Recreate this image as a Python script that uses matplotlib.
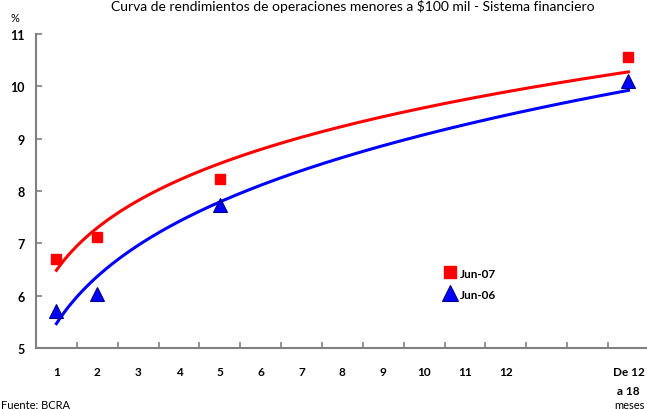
import numpy as np
import matplotlib
matplotlib.use("Agg")
import matplotlib.pyplot as plt

# Plazos (índice de categoría) y rendimientos observados
categorias = ["1", "2", "3", "4", "5", "6", "7", "8", "9", "10", "11", "12", "", "", "De 12\na 18"]
plazos = [1, 2, 5, 15]
jun07 = [6.70, 7.12, 8.23, 10.56]
jun06 = [5.71, 6.03, 7.73, 10.11]

plt.rcParams["font.family"] = ["Lato", "DejaVu Sans"]

fig = plt.figure(figsize=(6.47, 4.10), dpi=100)
ax = fig.add_axes([0.0556, 0.1488, 0.9473, 0.7658])

x = np.array(plazos, dtype=float)
xs = np.linspace(1, 15, 300)


def ajuste_potencial(xv, yv):
    b, lna = np.polyfit(np.log(xv), np.log(yv), 1)
    return np.exp(lna) * xs ** b


rojo = "#ff0000"
azul = "#0000ff"

ax.plot(xs, ajuste_potencial(x, jun07), color=rojo, lw=2.2, zorder=2)
ax.plot(xs, ajuste_potencial(x, jun06), color=azul, lw=2.2, zorder=2)
ax.plot(x, jun07, ls="none", marker="s", ms=7, color=rojo, mec=rojo, zorder=3, label="Jun-07")
ax.plot(x, jun06, ls="none", marker="^", ms=10, color=azul, mec="#000080", mew=0.8, zorder=3, label="Jun-06")

ax.set_xlim(0.5, 15.5)
ax.set_ylim(5, 11)
ax.set_yticks(range(5, 12))
ax.set_yticklabels([str(v) for v in range(5, 12)], fontweight="bold", fontsize=9)
ax.set_xticks(np.arange(0.5, 15.6, 1.0))
ax.set_xticklabels([])
ax.set_xticks(np.arange(1, 16), minor=True)
ax.set_xticklabels(categorias, minor=True, fontweight="bold", fontsize=8.5, va="top", linespacing=1.9)
ax.tick_params(axis="x", which="minor", length=0, pad=13)
ax.tick_params(axis="x", which="major", direction="in", length=4, color="#808080", width=1.2)
ax.tick_params(axis="y", direction="in", length=4, color="#808080", width=1.2, pad=8)

for s in ["top", "right"]:
    ax.spines[s].set_visible(False)
for s in ["left", "bottom"]:
    ax.spines[s].set_color("#808080")
    ax.spines[s].set_linewidth(1.5)

ax.legend(loc="upper left", bbox_to_anchor=(0.65, 0.29), frameon=False,
          prop={"weight": "bold", "size": 8.5}, handlelength=0.9, handletextpad=0.4,
          labelspacing=0.85, markerscale=1.15)

fig.text(0.545, 0.985, "Curva de rendimientos de operaciones menores a $100 mil - Sistema financiero",
         ha="center", va="center", fontsize=10)
fig.text(0.017, 0.955, "%", ha="left", va="center", fontsize=8)
fig.text(0.001, 0.012, "Fuente: BCRA", ha="left", va="center", fontsize=8)
fig.text(0.997, 0.012, "meses", ha="right", va="center", fontsize=8)

fig.savefig("out.png", dpi=100)
